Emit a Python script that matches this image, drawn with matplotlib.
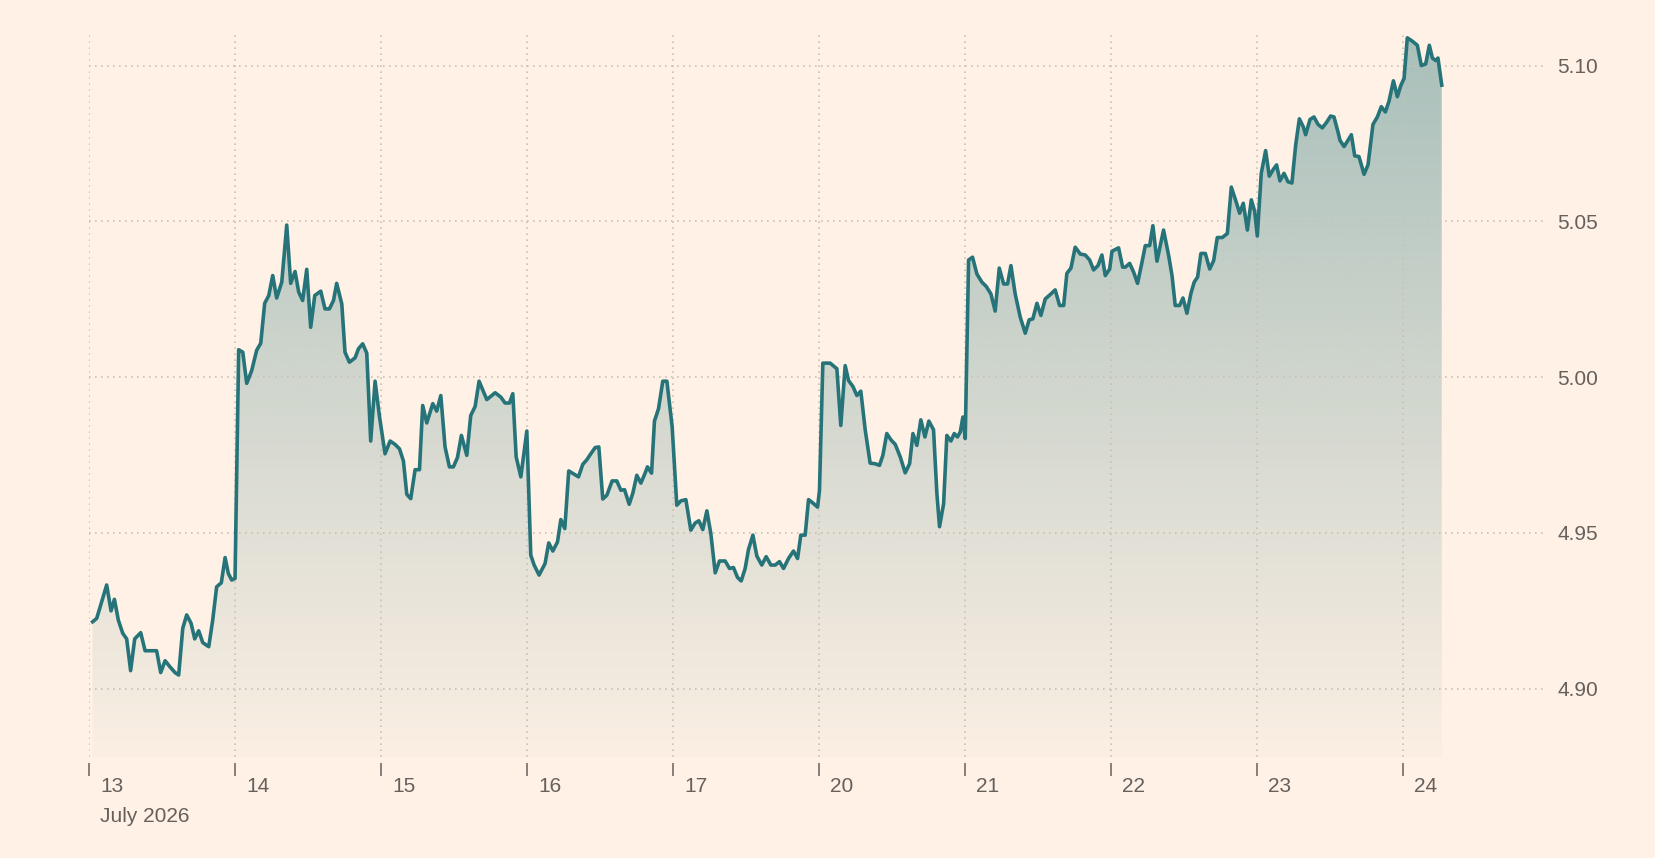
import numpy as np
import matplotlib
matplotlib.use("Agg")
import matplotlib.pyplot as plt
from matplotlib.patches import Polygon
from matplotlib.colors import to_rgb
import matplotlib.transforms as mtransforms

plt.rcParams['font.family'] = ['Liberation Sans', 'DejaVu Sans']

# session days shown on the x axis (trading days only)
day_labels = ['13\nJuly 2026', '14', '15', '16', '17', '20', '21', '22', '23', '24']

# time in trading days since the open of 13 July, and the value at that time
t = [0.025, 0.053, 0.087, 0.121, 0.151, 0.174, 0.201, 0.231, 0.258, 0.285,
     0.313, 0.354, 0.384, 0.463, 0.491, 0.521, 0.555, 0.589, 0.614, 0.642,
     0.669, 0.699, 0.724, 0.751, 0.779, 0.820, 0.847, 0.874, 0.906, 0.932,
     0.954, 0.977, 1.000, 1.025, 1.053, 1.080, 1.114, 1.148, 1.176, 1.203,
     1.231, 1.258, 1.285, 1.320, 1.354, 1.381, 1.411, 1.436, 1.463, 1.491,
     1.518, 1.546, 1.587, 1.616, 1.646, 1.674, 1.696, 1.731, 1.753, 1.783,
     1.822, 1.845, 1.874, 1.902, 1.929, 1.959, 1.989, 2.027, 2.062, 2.096,
     2.126, 2.153, 2.176, 2.203, 2.233, 2.263, 2.285, 2.313, 2.354, 2.381,
     2.409, 2.438, 2.468, 2.495, 2.523, 2.550,
     2.587, 2.614, 2.644, 2.671, 2.696, 2.724, 2.758, 2.781, 2.820, 2.849,
     2.879, 2.902, 2.925, 2.957, 2.998, 3.025, 3.048, 3.082, 3.123, 3.148,
     3.176, 3.208, 3.231, 3.258, 3.285, 3.317, 3.352, 3.381, 3.409, 3.436,
     3.466, 3.491, 3.518, 3.546, 3.582, 3.614, 3.642, 3.667, 3.699, 3.724,
     3.751, 3.779, 3.808, 3.824, 3.852, 3.872, 3.900, 3.929, 3.957, 3.993,
     4.025, 4.053, 4.087, 4.121, 4.151, 4.176, 4.203, 4.231, 4.258, 4.288,
     4.317, 4.356, 4.386, 4.413, 4.441, 4.466, 4.493, 4.516, 4.546, 4.573,
     4.607, 4.637, 4.669, 4.699, 4.728, 4.756, 4.790, 4.824, 4.852, 4.874,
     4.904, 4.927, 4.957, 4.989, 5.002, 5.025, 5.075, 5.121, 5.148, 5.178,
     5.201, 5.231, 5.258, 5.285, 5.315, 5.349, 5.384, 5.413,
     5.436, 5.463, 5.491, 5.521, 5.555, 5.589, 5.619, 5.642, 5.669, 5.696,
     5.724, 5.751, 5.783, 5.806, 5.824, 5.852, 5.874, 5.902, 5.925, 5.947,
     5.966, 5.984, 6.000, 6.023, 6.050, 6.080, 6.114, 6.144, 6.176, 6.205,
     6.233, 6.263, 6.290, 6.313, 6.342, 6.377, 6.411, 6.438, 6.463, 6.491,
     6.518, 6.548, 6.582, 6.616, 6.646, 6.674, 6.696, 6.724, 6.753, 6.788,
     6.822, 6.852, 6.879, 6.909, 6.936, 6.959, 6.989, 7.005, 7.050, 7.078,
     7.096, 7.126, 7.153, 7.180, 7.210, 7.233, 7.263, 7.285, 7.313, 7.358,
     7.393, 7.416, 7.438, 7.468, 7.491, 7.518, 7.546, 7.568, 7.591, 7.614,
     7.644, 7.674, 7.701,
     7.726, 7.760, 7.795, 7.822, 7.852, 7.879, 7.904, 7.932, 7.959, 7.982,
     8.000, 8.027, 8.057, 8.082, 8.110, 8.132, 8.155, 8.183, 8.210, 8.237,
     8.263, 8.288, 8.315, 8.331, 8.361, 8.388, 8.416, 8.445, 8.475, 8.502,
     8.525, 8.553, 8.566, 8.594, 8.621, 8.644, 8.667, 8.696, 8.731, 8.758,
     8.792, 8.822, 8.849, 8.877, 8.902, 8.932, 8.959, 8.982, 9.005, 9.027,
     9.062, 9.096, 9.123, 9.153, 9.178, 9.199, 9.221, 9.237, 9.263]

v = [4.9215, 4.9226, 4.9280, 4.9333, 4.9250, 4.9287, 4.9220, 4.9178, 4.9160, 4.9058,
     4.9160, 4.9180, 4.9122, 4.9122, 4.9052, 4.9090, 4.9070, 4.9052, 4.9044, 4.9194,
     4.9237, 4.9210, 4.9160, 4.9186, 4.9148, 4.9135, 4.9220, 4.9327, 4.9340, 4.9421,
     4.9370, 4.9349, 4.9354, 5.0088, 5.0080, 4.9980, 5.0021, 5.0086, 5.0109, 5.0237,
     5.0262, 5.0326, 5.0254, 5.0305, 5.0488, 5.0301, 5.0339, 5.0273, 5.0246, 5.0346,
     5.0160, 5.0262, 5.0276, 5.0219, 5.0219, 5.0246, 5.0301, 5.0235, 5.0080, 5.0048,
     5.0062, 5.0091, 5.0107, 5.0077, 4.9795, 4.9987, 4.9874, 4.9754, 4.9795, 4.9784,
     4.9770, 4.9731, 4.9624, 4.9610, 4.9703, 4.9703, 4.9909, 4.9853, 4.9915, 4.9891,
     4.9941, 4.9776, 4.9712, 4.9712, 4.9742, 4.9813,
     4.9749, 4.9877, 4.9906, 4.9987, 4.9959, 4.9928, 4.9941, 4.9950, 4.9936, 4.9917,
     4.9917, 4.9947, 4.9744, 4.9680, 4.9827, 4.9429, 4.9397, 4.9365, 4.9402, 4.9468,
     4.9442, 4.9471, 4.9543, 4.9514, 4.9699, 4.9690, 4.9680, 4.9720, 4.9735, 4.9754,
     4.9774, 4.9776, 4.9609, 4.9621, 4.9667, 4.9667, 4.9637, 4.9639, 4.9592, 4.9628,
     4.9685, 4.9660, 4.9692, 4.9712, 4.9692, 4.9859, 4.9899, 4.9987, 4.9987, 4.9842,
     4.9589, 4.9603, 4.9607, 4.9509, 4.9532, 4.9539, 4.9511, 4.9571, 4.9498, 4.9372,
     4.9410, 4.9410, 4.9386, 4.9389, 4.9357, 4.9346, 4.9386, 4.9447, 4.9493, 4.9426,
     4.9397, 4.9424, 4.9397, 4.9397, 4.9408, 4.9386, 4.9418, 4.9442, 4.9418, 4.9493,
     4.9493, 4.9607, 4.9596, 4.9583, 4.9637, 5.0045, 5.0045, 5.0027, 4.9845, 5.0037,
     4.9989, 4.9970, 4.9941, 4.9955, 4.9831, 4.9724, 4.9722, 4.9717,
     4.9749, 4.9819, 4.9799, 4.9784, 4.9744, 4.9693, 4.9722, 4.9819, 4.9781, 4.9863,
     4.9808, 4.9859, 4.9831, 4.9626, 4.9520, 4.9594, 4.9813, 4.9795, 4.9819, 4.9808,
     4.9824, 4.9872, 4.9803, 5.0376, 5.0385, 5.0331, 5.0305, 5.0291, 5.0267, 5.0212,
     5.0350, 5.0299, 5.0299, 5.0358, 5.0267, 5.0192, 5.0141, 5.0184, 5.0187, 5.0237,
     5.0198, 5.0251, 5.0265, 5.0280, 5.0230, 5.0230, 5.0333, 5.0350, 5.0417, 5.0395,
     5.0392, 5.0376, 5.0344, 5.0358, 5.0392, 5.0326, 5.0347, 5.0404, 5.0415, 5.0353,
     5.0353, 5.0365, 5.0337, 5.0301, 5.0368, 5.0422, 5.0422, 5.0486, 5.0372, 5.0472,
     5.0390, 5.0326, 5.0230, 5.0230, 5.0254, 5.0205, 5.0270, 5.0305, 5.0321, 5.0397,
     5.0397, 5.0347, 5.0374,
     5.0448, 5.0448, 5.0461, 5.0610, 5.0567, 5.0526, 5.0558, 5.0472, 5.0569, 5.0532,
     5.0453, 5.0654, 5.0727, 5.0645, 5.0667, 5.0681, 5.0630, 5.0654, 5.0627, 5.0623,
     5.0746, 5.0829, 5.0803, 5.0778, 5.0827, 5.0835, 5.0811, 5.0800, 5.0818, 5.0838,
     5.0835, 5.0786, 5.0760, 5.0740, 5.0760, 5.0778, 5.0710, 5.0708, 5.0651, 5.0681,
     5.0811, 5.0835, 5.0868, 5.0851, 5.0886, 5.0951, 5.0900, 5.0935, 5.0959, 5.1089,
     5.1078, 5.1065, 5.1000, 5.1005, 5.1065, 5.1024, 5.1016, 5.1024, 5.0937]

y_ticks = [4.90, 4.95, 5.00, 5.05, 5.10]

BG = '#fff1e5'
LINE = '#267479'
GRID = '#c9c1b7'
TEXT = '#66605c'

x_min, x_max = 0, 9.97
y_min, y_max = 4.8781, 5.1098

fig = plt.figure(figsize=(16.56, 8.58), dpi=100, facecolor=BG)
ax = fig.add_axes([89 / 1656, 1 - 757 / 858, (1545 - 89) / 1656, (757 - 35) / 858])
ax.set_facecolor(BG)
ax.set_xlim(x_min, x_max)
ax.set_ylim(y_min, y_max)

# gradient area under the line
verts = [(t[0], y_min)] + list(zip(t, v)) + [(t[-1], y_min)]
area = Polygon(verts, closed=True, facecolor='none', edgecolor='none')
ax.add_patch(area)
r, g, b = to_rgb(LINE)
n = 256
grad = np.zeros((n, 1, 4))
grad[:, 0, 0] = r
grad[:, 0, 1] = g
grad[:, 0, 2] = b
grad[:, 0, 3] = np.linspace(0.40, 0.02, n)
im = ax.imshow(grad, extent=[x_min, x_max, y_min, y_max], origin='upper',
               aspect='auto', zorder=1, interpolation='bilinear')
im.set_clip_path(area)

ax.plot(t, v, color=LINE, lw=2.6, zorder=3, solid_joinstyle='round')

ax.set_xticks(range(len(day_labels)))
ax.set_xticklabels(day_labels)
ax.set_yticks(y_ticks)
ax.set_yticklabels([f'{y:.2f}' for y in y_ticks])
ax.yaxis.tick_right()

ax.grid(True, color=GRID, linestyle=(0, (1, 2.6)), linewidth=1.2, zorder=0)
for s in ax.spines.values():
    s.set_visible(False)
ax.spines['bottom'].set_position(('outward', 4))

ax.tick_params(axis='x', direction='out', length=9.5, width=1.1, color=TEXT,
               labelcolor=TEXT, labelsize=15, pad=1)
ax.tick_params(axis='y', length=0, labelcolor=TEXT, labelsize=15, pad=9)

# labels sit to the right of their tick, left aligned
offset = mtransforms.ScaledTranslation(11 / 100, 0, fig.dpi_scale_trans)
for tick in ax.xaxis.get_major_ticks():
    lab = tick.label1
    lab.set_horizontalalignment('left')
    lab.set_multialignment('left')
    lab.set_linespacing(1.75)
    lab.set_transform(lab.get_transform() + offset)

fig.savefig('out.png', dpi=100, facecolor=BG)
